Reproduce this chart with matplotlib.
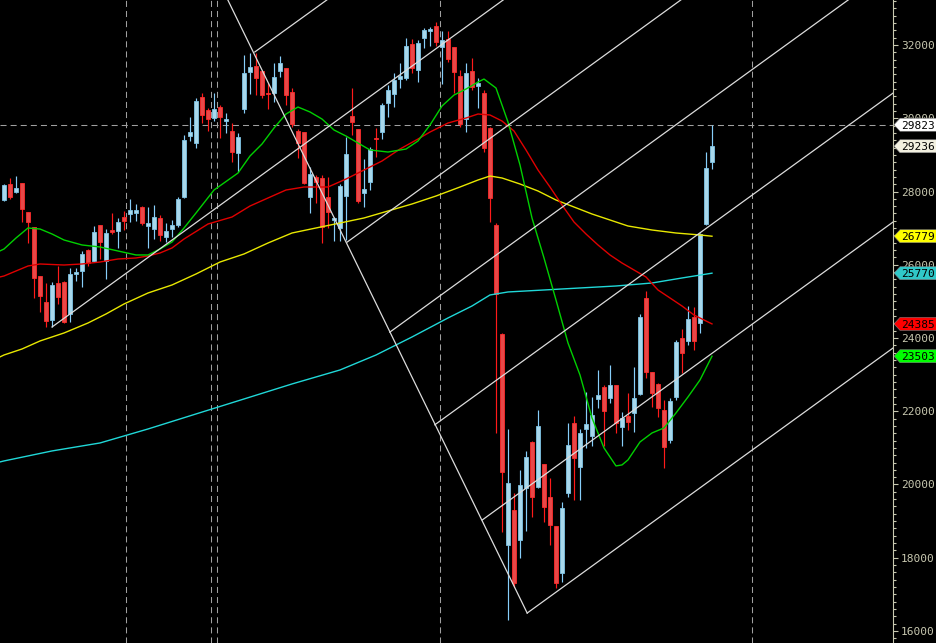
import numpy as np
import matplotlib.pyplot as plt
from matplotlib.patches import Polygon
from matplotlib.ticker import MultipleLocator, FormatStrFormatter

# daily candles (open, high, low, close)
opens = [27768, 28205, 27986, 28232, 27440, 27031, 25693, 24983, 24492, 25502,
         25529, 24656, 25748, 25830, 26403, 26103, 27086, 26103, 26949, 26922,
         27304, 27386, 27413, 27577, 27058, 26976, 27277, 26758, 26976, 27086,
         27850, 29515, 29324, 30580, 30225, 30007, 30307, 29925, 29652, 29051,
         30252, 31262, 31426, 31290, 30689, 30689, 31290, 31372, 30716, 29652,
         29624, 27850, 28396, 28369, 27850, 27222, 27004, 27877, 30061, 29706,
         27959, 28259, 29461, 29624, 30416, 30662, 31071, 31099, 32027, 31317,
         32191, 32382, 32518, 31945, 32163, 31945, 31153, 29979, 31290, 30880,
         30689, 29734, 27086, 24110, 18350, 19305, 18486, 19906, 21161, 19933,
         20561, 19660, 18868, 17585, 19769, 21680, 20479, 21516, 21325, 22335,
         22663, 22363, 22718, 21571, 21871, 21953, 22472, 25093, 23072, 22745,
         22035, 21216, 22390, 24001, 23919, 24574, 24410, 27113, 28805]
highs = [28205, 28369, 28423, 28232, 27440, 27031, 25693, 25502, 25529, 25966,
         25557, 25912, 25912, 26376, 26430, 27058, 27086, 26976, 27413, 27277,
         27468, 27795, 27659, 27604, 27577, 27632, 27358, 27140, 27222, 27850,
         29543, 30034, 30553, 30689, 30280, 30689, 30362, 30143, 29870, 29597,
         31727, 31781, 31781, 31290, 30962, 31508, 31699, 31372, 30826, 29706,
         29624, 28669, 28450, 28450, 28396, 27304, 28205, 29488, 30826, 29706,
         28887, 29215, 29734, 30416, 30908, 31235, 31508, 32191, 32163, 32136,
         32464, 32491, 32627, 32382, 32382, 31945, 31317, 31508, 31645, 31099,
         30771, 29761, 27140, 24137, 21516, 19769, 20397, 20916, 21189, 22035,
         20561, 20179, 18868, 19523, 21680, 21871, 21516, 22526, 22390, 23127,
         22718, 23264, 22718, 21981, 22499, 23209, 24656, 25284, 23072, 22772,
         22308, 22363, 23946, 24246, 24874, 24847, 26867, 29078, 29823]
lows = [27741, 27795, 27959, 27167, 26594, 25093, 24710, 24301, 24301, 24929,
        24410, 24437, 25557, 25393, 25966, 26075, 26157, 25611, 26840, 26458,
        26949, 27167, 27195, 27086, 26458, 26703, 26649, 26621, 26758, 27031,
        27823, 29379, 29188, 29870, 29652, 29925, 29461, 29597, 28805, 28532,
        30143, 30662, 30634, 30553, 30252, 30443, 31126, 30362, 29761, 28915,
        28205, 27413, 27686, 26594, 27004, 26649, 26649, 26676, 29543, 27686,
        27577, 28041, 28942, 29433, 30034, 30307, 30826, 31044, 31235, 30989,
        31918, 31972, 31972, 30935, 31535, 30689, 29761, 29624, 30771, 30280,
        29078, 27167, 21407, 18704, 16302, 17203, 17995, 18732, 19114, 19906,
        18977, 18350, 17176, 17339, 19660, 19578, 19578, 20998, 21052, 22090,
        21052, 22226, 21407, 21052, 21489, 21434, 22444, 22909, 22117, 21844,
        20452, 21134, 22308, 23045, 23810, 23673, 24137, 27086, 28614]
closes = [28178, 27850, 28096, 27523, 27167, 25639, 25147, 24465, 25448, 25120,
          24437, 25748, 25802, 26294, 26048, 26894, 26621, 26867, 26894, 27167,
          27195, 27495, 27495, 27140, 27140, 27304, 26813, 26922, 27086, 27795,
          29406, 29624, 30471, 30089, 29979, 30252, 30034, 29979, 29078, 29488,
          31235, 31399, 31099, 30634, 30662, 31126, 31508, 30634, 29843, 29324,
          28232, 28478, 28259, 27031, 27440, 27277, 28150, 29024, 29897, 27741,
          28068, 29160, 29433, 30362, 30771, 31044, 31153, 31972, 31372, 32054,
          32409, 32436, 32081, 32136, 31617, 31262, 29843, 31235, 30853, 30962,
          29188, 27823, 25202, 20342, 20042, 17312, 19988, 20752, 19660, 21598,
          19387, 18896, 17312, 19360, 21080, 20725, 21407, 21653, 21899, 22444,
          22008, 22718, 21680, 21817, 21707, 22363, 24574, 23072, 22499, 22090,
          21025, 22281, 23891, 23591, 24519, 23919, 26840, 28642, 29236]

# moving averages (bar index, value)
green_idx = [-0.7, 0, 2, 4, 6, 8, 10, 13, 16, 19, 22, 24, 26, 28, 30, 32, 35, 39, 41, 43,
             45, 47, 49, 51, 53, 55, 57, 59, 61, 64, 67, 69, 71, 73, 75, 77, 79, 80, 82,
             84, 86, 88, 90, 92, 94, 96, 98, 100, 102, 103, 104, 106, 108, 110, 112, 114,
             116, 118]
green_val = [26376, 26430, 26731, 27004, 26976, 26840, 26676, 26540, 26485, 26376, 26267,
             26267, 26430, 26621, 27004, 27413, 28041, 28505, 28969, 29297, 29734, 30116,
             30307, 30171, 29979, 29679, 29515, 29324, 29134, 29078, 29160, 29379, 29816,
             30334, 30634, 30798, 30989, 31071, 30826, 29897, 28724, 27277, 26185, 25038,
             23864, 22990, 21817, 20998, 20507, 20534, 20671, 21161, 21407, 21544, 21953,
             22390, 22854, 23503]
red_idx = [-0.7, 0, 2, 4, 6, 10, 13, 16, 19, 22, 24, 26, 28, 30, 34, 38, 41, 44, 47, 50,
           54, 57, 60, 63, 66, 69, 71, 74, 77, 79, 81, 83, 85, 87, 89, 91, 93, 95, 97, 99,
           101, 103, 105, 107, 109, 111, 113, 115, 117, 118]
red_val = [25666, 25693, 25830, 25966, 26021, 25993, 26021, 26075, 26157, 26185, 26240,
           26321, 26458, 26703, 27113, 27304, 27604, 27823, 28041, 28123, 28123, 28341,
           28587, 28833, 29160, 29433, 29624, 29870, 30007, 30116, 30089, 29925, 29652,
           29134, 28587, 28123, 27632, 27167, 26840, 26540, 26267, 26048, 25857, 25666,
           25311, 25093, 24874, 24628, 24465, 24385]
yellow_idx = [-0.7, 0, 3, 6, 10, 14, 17, 20, 24, 28, 32, 36, 40, 44, 48, 52, 56, 60, 64, 68,
              72, 76, 79, 81, 83, 86, 89, 92, 95, 98, 101, 104, 108, 112, 116, 118]
yellow_val = [23482, 23536, 23700, 23919, 24137, 24410, 24656, 24929, 25229, 25448, 25748,
              26075, 26294, 26594, 26867, 27004, 27140, 27277, 27468, 27659, 27877, 28123,
              28314, 28423, 28369, 28205, 28014, 27768, 27577, 27386, 27222, 27058, 26949,
              26867, 26813, 26779]
cyan_idx = [-0.7, 0, 8, 16, 24, 32, 40, 48, 56, 62, 68, 74, 78, 81, 84, 90, 96, 102, 108,
            113, 118]
cyan_val = [20615, 20643, 20916, 21134, 21516, 21926, 22335, 22745, 23127, 23536, 24028,
            24547, 24874, 25175, 25257, 25311, 25366, 25420, 25502, 25639, 25770]

# drawn objects: pitchfork handle and parallel channel lines (bar index, price)
handle_line = [(37.3, 33230), (87.2, 16490)]
channel_lines = [
    [(41.8, 31810), (53.8, 33230)],
    [(8.0, 24300), (83.2, 33230)],
    [(57.2, 26620), (112.8, 33230)],
    [(64.3, 24160), (140.7, 33230)],
    [(71.8, 21630), (148.2, 30690)],
    [(79.7, 19030), (148.2, 27170)],
    [(87.2, 16490), (148.2, 23730)],
]
separator_idx = [20.33, 34.5, 35.5, 72.67, 124.67]
crosshair_price = 29823

# price tags on the right axis
tag_values = [29823, 29236, 26779, 25770, 24385, 23503]
tag_colors = ['#ffffff', '#f2f0e0', '#ffff00', '#30c8c8', '#ff0000', '#00ff00']


def main():
    o = np.array(opens)
    h = np.array(highs)
    l = np.array(lows)
    c = np.array(closes)
    x = np.arange(len(o))
    up = c >= o

    fig = plt.figure(figsize=(9.37, 6.43), dpi=100, facecolor='black')
    ax = fig.add_axes([0, 0, 893 / 937, 1])
    ax.set_facecolor('black')
    ax.set_xlim(-0.67, 148.17)
    ax.set_ylim(15672, 33229)

    # separators / crosshair
    for s in separator_idx:
        ax.axvline(s, color='#a0a0a0', lw=0.75, ls=(0, (5.8, 3.9)), zorder=1)
    ax.axhline(crosshair_price, color='#a0a0a0', lw=0.75, ls=(0, (5.8, 3.9)), zorder=1)

    # candles
    wick_col = np.where(up, '#87cefa', '#ff1a1a')
    ax.vlines(x, l, h, colors=wick_col, lw=0.85, zorder=2)
    body = np.maximum(np.abs(c - o), 35)
    bottom = np.minimum(o, c)
    ax.bar(x[up], body[up], bottom=bottom[up], width=0.75, color='#a8d8ec',
           edgecolor='#7ec4e6', linewidth=0.6, zorder=3)
    ax.bar(x[~up], body[~up], bottom=bottom[~up], width=0.75, color='#e84848',
           edgecolor='#ff2a2a', linewidth=0.6, zorder=3)

    # moving averages
    ax.plot(cyan_idx, cyan_val, color='#20d8d8', lw=1.0, zorder=4)
    ax.plot(yellow_idx, yellow_val, color='#e8e800', lw=1.0, zorder=4)
    ax.plot(red_idx, red_val, color='#e00000', lw=1.0, zorder=4)
    ax.plot(green_idx, green_val, color='#00d000', lw=1.0, zorder=4)

    # pitchfork lines
    hx, hy = zip(*handle_line)
    ax.plot(hx, hy, color='#dcdcdc', lw=0.9, zorder=5)
    for seg in channel_lines:
        sx, sy = zip(*seg)
        ax.plot(sx, sy, color='#dcdcdc', lw=0.9, zorder=5)

    # right price scale
    for side in ['left', 'top', 'bottom']:
        ax.spines[side].set_visible(False)
    ax.spines['right'].set_color('#c8c8b0')
    ax.spines['right'].set_linewidth(0.8)
    ax.tick_params(axis='x', bottom=False, labelbottom=False)
    ax.yaxis.tick_right()
    ax.yaxis.set_major_locator(MultipleLocator(2000))
    ax.yaxis.set_minor_locator(MultipleLocator(200))
    ax.yaxis.set_major_formatter(FormatStrFormatter('%d'))
    ax.tick_params(axis='y', which='major', colors='#c8c8b0', length=3.6, width=0.8,
                   labelsize=8, pad=2.2)
    ax.tick_params(axis='y', which='minor', colors='#c8c8b0', length=2.2, width=0.8)
    for lab in ax.get_yticklabels():
        lab.set_family('DejaVu Sans Mono')
        lab.set_color('#c8c8b0')

    # price tags (arrow boxes pointing at the scale)
    fig.canvas.draw()
    x0 = ax.bbox.x1
    for v, col in zip(tag_values, tag_colors):
        yd = ax.transData.transform((0, v))[1]
        pts = [(x0 + 1, yd), (x0 + 7, yd + 6.5), (fig.bbox.x1, yd + 6.5),
               (fig.bbox.x1, yd - 6.5), (x0 + 7, yd - 6.5)]
        poly = Polygon(pts, closed=True, transform=None, facecolor=col,
                       edgecolor='#808080', linewidth=0.4, zorder=20, clip_on=False)
        fig.patches.append(poly)
        fig.text((x0 + 8) / fig.bbox.width, yd / fig.bbox.height, str(v),
                 family='DejaVu Sans Mono', fontsize=8, color='black',
                 ha='left', va='center_baseline', zorder=21)

    plt.savefig('out.png', dpi=100, facecolor='black')


if __name__ == "__main__":
    main()
